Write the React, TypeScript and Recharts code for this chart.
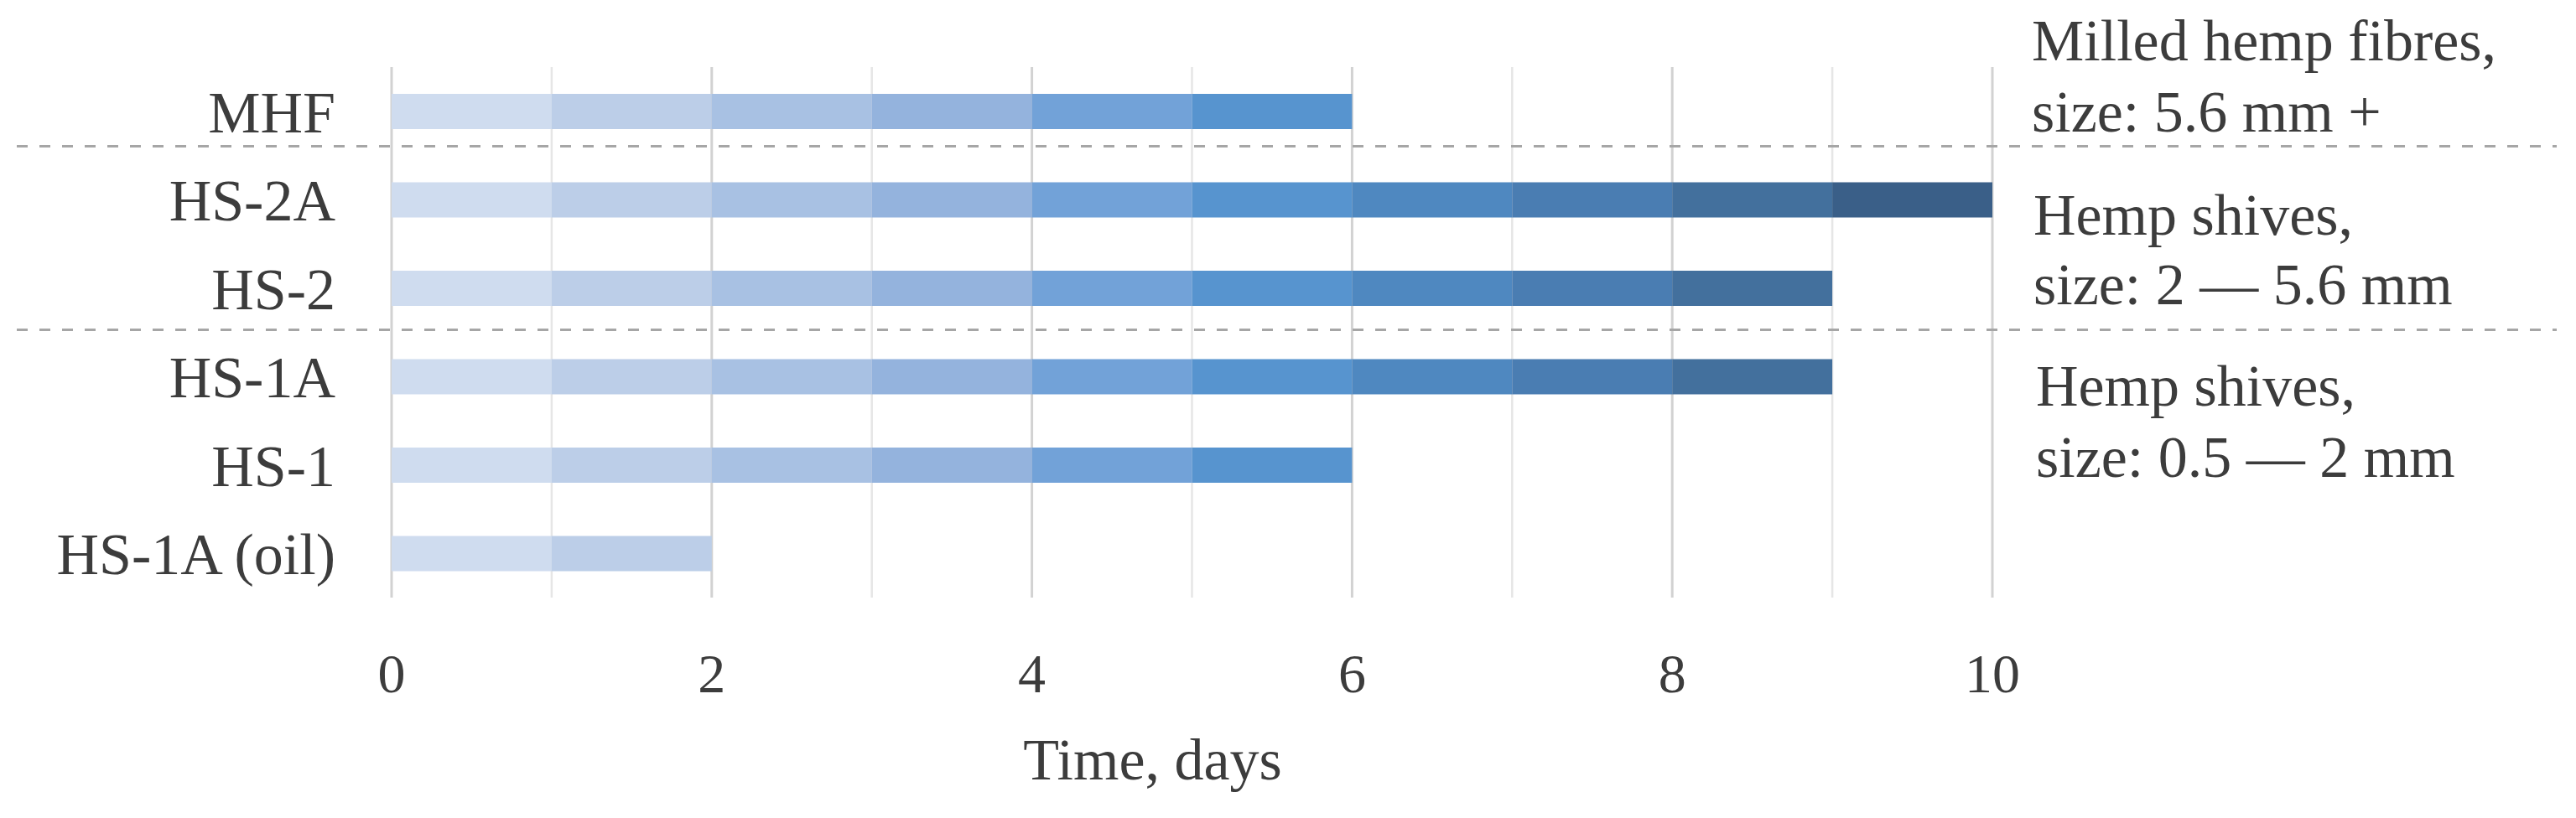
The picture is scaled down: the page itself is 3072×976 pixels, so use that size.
import React from 'react';
import { BarChart, Bar, XAxis, YAxis, CartesianGrid, ReferenceLine } from 'recharts';

const categories = ['MHF', 'HS-2A', 'HS-2', 'HS-1A', 'HS-1', 'HS-1A (oil)'];
const durationDays = [6, 10, 9, 9, 6, 2];
const xTicks = [0, 1, 2, 3, 4, 5, 6, 7, 8, 9, 10];
const segmentKeys = ['d1', 'd2', 'd3', 'd4', 'd5', 'd6', 'd7', 'd8', 'd9', 'd10'];
const segmentColors = [
  '#cfdcef', '#bccee8', '#a8c1e3', '#94b3dd', '#72a2d8',
  '#5794cf', '#4f88c0', '#4a7db2', '#43709d', '#3a5f88',
];
const groupSeparators = ['HS-2A', 'HS-1A'];
const separatorShift = [-11, -3];
const annotationLines = [
  { text: 'Milled hemp fibres,', x: 2423, y: 72 },
  { text: 'size: 5.6 mm +', x: 2423, y: 157 },
  { text: 'Hemp shives,', x: 2425, y: 280 },
  { text: 'size: 2 \u2014 5.6 mm', x: 2425, y: 363 },
  { text: 'Hemp shives,', x: 2428, y: 484 },
  { text: 'size: 0.5 \u2014 2 mm', x: 2428, y: 569 },
];
const xTitle = 'Time, days';

const FONT = "'Liberation Serif', 'DejaVu Serif', serif";
const TEXT = '#3c3c3c';

const data = categories.map((name, i) => {
  const row: Record<string, any> = { name };
  segmentKeys.forEach((k, j) => {
    row[k] = durationDays[i] >= j + 1 ? 1 : 0;
  });
  return row;
});

const GridLine = (p: any) => (
  <line
    x1={p.x1}
    y1={p.y1}
    x2={p.x2}
    y2={p.y2}
    stroke={p.index % 2 === 0 ? '#d2d2d2' : '#e6e6e6'}
    strokeWidth={p.index % 2 === 0 ? 3 : 2.5}
  />
);

const makeSeparator = (dy: number) => (p: any) => (
  <line
    x1={p.x1 - 447}
    y1={p.y1 + dy}
    x2={p.x2 + 673}
    y2={p.y2 + dy}
    stroke="#a6a6a6"
    strokeWidth={3}
    strokeDasharray="13 14"
  />
);

export default function App() {
  return (
    <div style={{ position: 'absolute', left: 0, top: 0, width: 3072, height: 976, background: '#fff' }}>
      <BarChart
        width={3072}
        height={976}
        data={data}
        layout="vertical"
        margin={{ top: 80, right: 696, left: 0, bottom: 0 }}
        barSize={42}
      >
        <CartesianGrid horizontal={false} vertical={GridLine} />
        <XAxis
          type="number"
          domain={[0, 10]}
          ticks={xTicks}
          interval={0}
          height={263}
          axisLine={false}
          tickLine={false}
          tickSize={0}
          tickMargin={66}
          tickFormatter={(v: number) => (v % 2 === 0 ? String(v) : '')}
          tick={{ fontSize: 66, fill: TEXT, fontFamily: FONT }}
          label={{
            value: xTitle,
            position: 'insideBottom',
            offset: 46,
            dx: -47,
            style: { fontSize: 70, fill: TEXT, fontFamily: FONT },
          }}
        />
        <YAxis
          type="category"
          dataKey="name"
          width={467}
          axisLine={false}
          tickLine={false}
          tickSize={0}
          tickMargin={67}
          tick={{ fontSize: 70, fill: TEXT, fontFamily: FONT }}
        />
        {segmentKeys.map((k, j) => (
          <Bar key={k} dataKey={k} stackId="t" fill={segmentColors[j]} isAnimationActive={false} />
        ))}
        {groupSeparators.map((c, i) => (
          <ReferenceLine
            key={c}
            y={c}
            position="start"
            ifOverflow="visible"
            shape={makeSeparator(separatorShift[i])}
          />
        ))}
      </BarChart>
      <svg
        width={3072}
        height={976}
        style={{ position: 'absolute', left: 0, top: 0, pointerEvents: 'none' }}
      >
        {annotationLines.map((a, i) => (
          <text key={i} x={a.x} y={a.y} fontSize={70} fill={TEXT} fontFamily={FONT}>
            {a.text}
          </text>
        ))}
      </svg>
    </div>
  );
}
